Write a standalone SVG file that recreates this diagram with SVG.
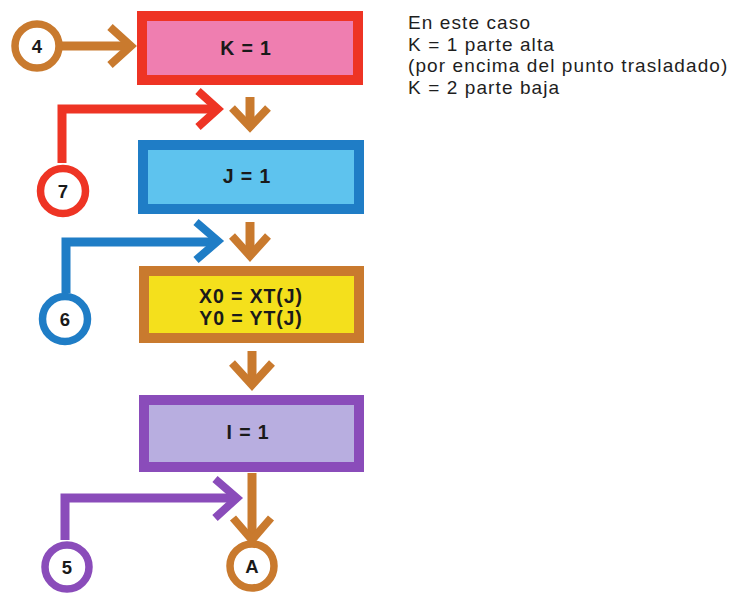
<svg xmlns="http://www.w3.org/2000/svg" width="736" height="593" viewBox="0 0 736 593">
<style>
.lbl{font-family:"Liberation Sans",Arial,sans-serif;font-weight:bold;font-size:19.5px;fill:#1a1a1a;text-anchor:middle;letter-spacing:0.9px}
.num{font-family:"Liberation Sans",Arial,sans-serif;font-weight:bold;font-size:18.5px;fill:#1a1a1a;text-anchor:middle}
.note{font-family:"Liberation Sans",Arial,sans-serif;font-size:19px;fill:#1e1e1e;letter-spacing:1.1px}
.ln{fill:none;stroke-width:9;stroke-linejoin:miter;stroke-linecap:butt}
.hd{fill:none;stroke-width:8;stroke-linejoin:miter;stroke-linecap:butt;stroke-miterlimit:10}
.br{stroke:#c97a2e}.rd{stroke:#ee3424}.bl{stroke:#1f7dc6}.pu{stroke:#8a4cba}
.ring{fill:#fff;stroke-width:7.5}
.box{stroke-width:10}
</style>
<rect width="736" height="593" fill="#fff"/>
<g id="connectors">
  <path class="ln br" d="M59,46 H128"/>
  <polyline class="hd br" points="110,27 131,46 110,65"/>
  <path class="ln br" d="M250,97 V124"/>
  <polyline class="hd br" points="232,108 250,127 268,108"/>
  <path class="ln rd" d="M62,163 V109 H214"/>
  <polyline class="hd rd" points="198,91 218,109 198,127"/>
  <path class="ln br" d="M250,222 V254"/>
  <polyline class="hd br" points="232,236 250,256 268,236"/>
  <path class="ln bl" d="M66,293 V242 H216"/>
  <polyline class="hd bl" points="196,222 218,241 196,260"/>
  <path class="ln br" d="M252,351 V383"/>
  <polyline class="hd br" points="232,363 252,385 272,363"/>
  <path class="ln pu" d="M65,540 V498 H234"/>
  <polyline class="hd pu" points="215,479 237,498 215,518"/>
  <path class="ln br" d="M252,473 V538"/>
  <polyline class="hd br" points="233,518 252,540 271,518"/>
</g>
<g id="n4"><circle class="ring br" cx="37" cy="46" r="22"/><text class="num" x="37" y="52.5">4</text></g>
<g id="nK"><rect class="box" x="142" y="16" width="216" height="64" fill="#ef7eb0" stroke="#ee3424"/><text class="lbl" x="246" y="55">K = 1</text></g>
<g id="n7"><circle class="ring rd" cx="63" cy="191" r="22.5"/><text class="num" x="63" y="197.5">7</text></g>
<g id="nJ"><rect class="box" x="143" y="145" width="216" height="64" fill="#5ec3ee" stroke="#1f7dc6"/><text class="lbl" x="247" y="183">J = 1</text></g>
<g id="n6"><circle class="ring bl" cx="65" cy="319" r="22.5"/><text class="num" x="65" y="325.5">6</text></g>
<g id="nX"><rect class="box" x="144" y="271" width="215" height="67" fill="#f4e01c" stroke="#c97a2e"/><text class="lbl" x="251" y="303">X0 = XT(J)</text><text class="lbl" x="251" y="325">Y0 = YT(J)</text></g>
<g id="nI"><rect class="box" x="144" y="400" width="215" height="67" fill="#b8aee0" stroke="#8a4cba"/><text class="lbl" x="248" y="439">I = 1</text></g>
<g id="n5"><circle class="ring pu" cx="67" cy="567" r="22"/><text class="num" x="67" y="573.5">5</text></g>
<g id="nA"><circle class="ring br" cx="252" cy="566" r="22"/><text class="num" x="252" y="572.5">A</text></g>
<g id="note">
  <text class="note" x="408" y="29">En este caso</text>
  <text class="note" x="408" y="50.5">K = 1 parte alta</text>
  <text class="note" x="408" y="72">(por encima del punto trasladado)</text>
  <text class="note" x="408" y="93.5">K = 2 parte baja</text>
</g>
</svg>
